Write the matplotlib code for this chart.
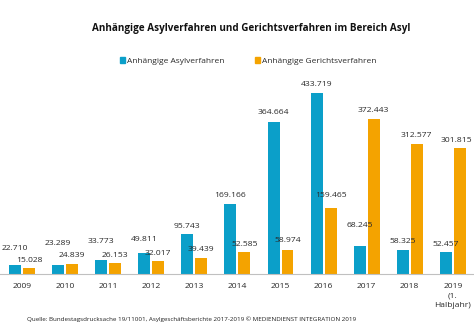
import matplotlib
matplotlib.use("Agg")
import matplotlib.pyplot as plt
from matplotlib.patches import Patch

plt.rcParams['font.family'] = ['Open Sans', 'DejaVu Sans']

# Data
years = ["2009", "2010", "2011", "2012", "2013", "2014", "2015", "2016", "2017", "2018", "2019\n(1.\nHalbjahr)"]
asyl = [22710, 23289, 33773, 49811, 95743, 169166, 364664, 433719, 68245, 58325, 52457]
gericht = [15028, 24839, 26153, 32017, 39439, 52585, 58974, 159465, 372443, 312577, 301815]
asyl_labels = ["22.710", "23.289", "33.773", "49.811", "95.743", "169.166", "364.664", "433.719", "68.245", "58.325", "52.457"]
gericht_labels = ["15.028", "24.839", "26.153", "32.017", "39.439", "52.585", "58.974", "159.465", "372.443", "312.577", "301.815"]

title = "Anhängige Asylverfahren und Gerichtsverfahren im Bereich Asyl"
series_names = ["Anhängige Asylverfahren", "Anhängige Gerichtsverfahren"]
source = ("Quelle: Bundestagsdrucksache 19/11001, Asylgeschäftsberichte 2017-2019 "
          "© MEDIENDIENST INTEGRATION 2019")

BLUE = "#0b9fc9"
ORANGE = "#f4a300"

# Vertical distance (pixels) between bar top and label centre; some labels
# are lifted further so they do not collide with neighbouring labels.
asyl_lift = [16.5, 21, 19, 13.5, 8, 8, 9, 9, 20, 8, 8]
gericht_lift = [8, 8, 8, 7.5, 8.5, 8, 9.5, 12, 8.5, 8.5, 8]

W, H = 474, 330
fig = plt.figure(figsize=(W / 100, H / 100), dpi=100)
base_px = 55.7
ax_h_px = 204.3
ax = fig.add_axes([0, base_px / H, 1, ax_h_px / H])

x = list(range(len(years)))
bw = 0.278
off = 0.162
ax.bar([i - off for i in x], asyl, width=bw, color=BLUE, zorder=2)
ax.bar([i + off for i in x], gericht, width=bw, color=ORANGE, zorder=2)

ax.set_xlim(-0.51, len(years) - 0.51)
ax.set_ylim(0, ax_h_px / 0.000418)

labels = []
for i in x:
    labels.append(ax.annotate(asyl_labels[i], (i - off, asyl[i]), xytext=(0, asyl_lift[i]),
                              textcoords="offset pixels", ha="center", va="center",
                              fontsize=6.1, color="#2a2a2a"))
    labels.append(ax.annotate(gericht_labels[i], (i + off, gericht[i]), xytext=(0, gericht_lift[i]),
                              textcoords="offset pixels", ha="center", va="center",
                              fontsize=6.1, color="#2a2a2a"))

ax.set_xticks(x)
ax.set_xticklabels(years, fontsize=6.1, color="#2a2a2a", linespacing=1.55, va="top")
ax.tick_params(axis="x", length=0, pad=6)
ax.set_yticks([])
for s in ["top", "left", "right"]:
    ax.spines[s].set_visible(False)
ax.spines["bottom"].set_color("#c0c0c0")
ax.spines["bottom"].set_linewidth(0.8)

fig.text(251 / W, 1 - 28 / H, title, ha="center", va="center",
         fontsize=7.1, fontweight="bold", color="#111111")

handles = [Patch(color=BLUE), Patch(color=ORANGE)]
fig.legend(handles, series_names, loc="center", bbox_to_anchor=(248 / W, 1 - 61 / H),
           ncol=2, frameon=False, fontsize=6, handlelength=0.6, handleheight=0.6,
           handletextpad=0.3, columnspacing=3.6, labelcolor="#2a2a2a")

fig.text(27 / W, 1 - 319.5 / H, source, ha="left", va="center",
         fontsize=4.5, color="#222222")

# Keep value labels inside the canvas: pull any label that runs past an edge inward.
fig.canvas.draw()
renderer = fig.canvas.get_renderer()
for t in labels:
    bb = t.get_window_extent(renderer)
    dx, dy = t.xyann
    if bb.x1 > W - 2:
        t.xyann = (dx - (bb.x1 - (W - 2)), dy)
    elif bb.x0 < 1:
        t.xyann = (dx + (1 - bb.x0), dy)

fig.savefig("out.png", dpi=100)
